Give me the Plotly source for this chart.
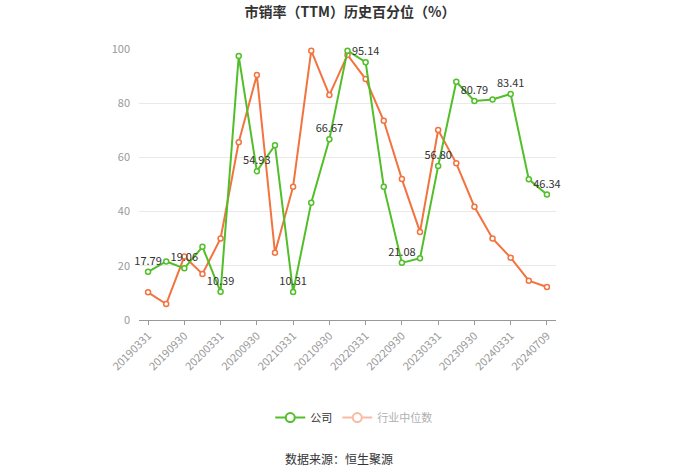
import plotly.graph_objects as go

# quarterly report dates
dates = [
    '20190331', '20190630', '20190930', '20191231',
    '20200331', '20200630', '20200930', '20201231',
    '20210331', '20210630', '20210930', '20211231',
    '20220331', '20220630', '20220930', '20221231',
    '20230331', '20230630', '20230930', '20231231',
    '20240331', '20240630', '20240709',
]

# company PS (TTM) historical percentile
company = [
    17.79, 21.6, 19.06, 27.0,
    10.39, 97.4, 54.93, 64.5,
    10.31, 43.3, 66.67, 99.4,
    95.14, 49.2, 21.08, 22.8,
    56.80, 87.9, 80.79, 81.4,
    83.41, 51.9, 46.34,
]

# industry median
industry = [
    10.2, 5.9, 23.4, 17.0,
    30.1, 65.6, 90.4, 24.8,
    49.2, 99.4, 83.0, 97.8,
    88.9, 73.5, 52.0, 32.5,
    70.1, 57.8, 41.8, 30.1,
    23.0, 14.5, 12.2,
]

GREEN = '#52bf2a'
ORANGE = '#f3733f'
FONT = 'Noto Sans CJK SC'

# only every other point carries a value label
labels = [f'{v:.2f}' if i % 2 == 0 else '' for i, v in enumerate(company)]

fig = go.Figure()

fig.add_trace(go.Scatter(
    x=dates, y=industry,
    mode='lines+markers',
    line=dict(color=ORANGE, width=2),
    marker=dict(size=5, color='white', line=dict(color=ORANGE, width=1.5)),
    cliponaxis=False,
    showlegend=False,
))

fig.add_trace(go.Scatter(
    x=dates, y=company,
    mode='lines+markers+text',
    text=labels,
    textposition='top center',
    textfont=dict(size=11, color='#333333', family=FONT),
    line=dict(color=GREEN, width=2),
    marker=dict(size=5, color='white', line=dict(color=GREEN, width=1.5)),
    cliponaxis=False,
    showlegend=False,
))

# legend entries (the industry one is drawn faded, as in the source)
fig.add_trace(go.Scatter(
    x=[None], y=[None], name='公司',
    mode='lines+markers',
    line=dict(color=GREEN, width=2),
    marker=dict(size=9, color='white', line=dict(color=GREEN, width=2)),
))
fig.add_trace(go.Scatter(
    x=[None], y=[None],
    name='<span style="color:#b0b0b0">行业中位数</span>',
    mode='lines+markers',
    line=dict(color='#f7bba3', width=2),
    marker=dict(size=9, color='white', line=dict(color='#f7bba3', width=2)),
))

fig.update_layout(
    width=700, height=474,
    margin=dict(l=139, r=144, t=49, b=154, autoexpand=False),
    paper_bgcolor='white',
    plot_bgcolor='white',
    font=dict(family=FONT, color='#666666', size=11),
    title=dict(
        text='<b>市销率（TTM）历史百分位（%）</b>',
        x=0.5, xanchor='center', y=0.975, yanchor='middle',
        font=dict(size=14, color='#333333', family=FONT),
    ),
    legend=dict(
        orientation='h', x=0.515, xanchor='center',
        y=-0.36, yanchor='middle',
        font=dict(size=11, color='#333333', family=FONT),
        itemwidth=30,
    ),
    annotations=[dict(
        text='数据来源：恒生聚源', xref='paper', yref='paper',
        x=0.48, y=-0.51, xanchor='center', yanchor='middle',
        showarrow=False, font=dict(size=12, color='#333333', family=FONT),
    )],
)

fig.update_xaxes(
    type='category',
    automargin=False,
    range=[-0.5, len(dates) - 0.5],
    tickmode='array',
    tickvals=dates[::2],
    ticktext=dates[::2],
    tickangle=-45,
    ticks='outside', ticklen=4, tickcolor='#999999',
    showline=True, linecolor='#999999', linewidth=1,
    showgrid=False,
    tickfont=dict(size=11, color='#999999'),
)

fig.update_yaxes(
    automargin=False,
    range=[0, 100],
    tickvals=[0, 20, 40, 60, 80, 100],
    showgrid=True, gridcolor='#e9e9e9',
    zeroline=False, showline=False,
    tickfont=dict(size=11, color='#999999'),
    ticklabelstandoff=8,
)

# drop the default page margin so the figure sits at the window's corner
fig.write_html(
    'out.html',
    config={'displayModeBar': False},
    post_script="document.body.style.margin='0';",
)
